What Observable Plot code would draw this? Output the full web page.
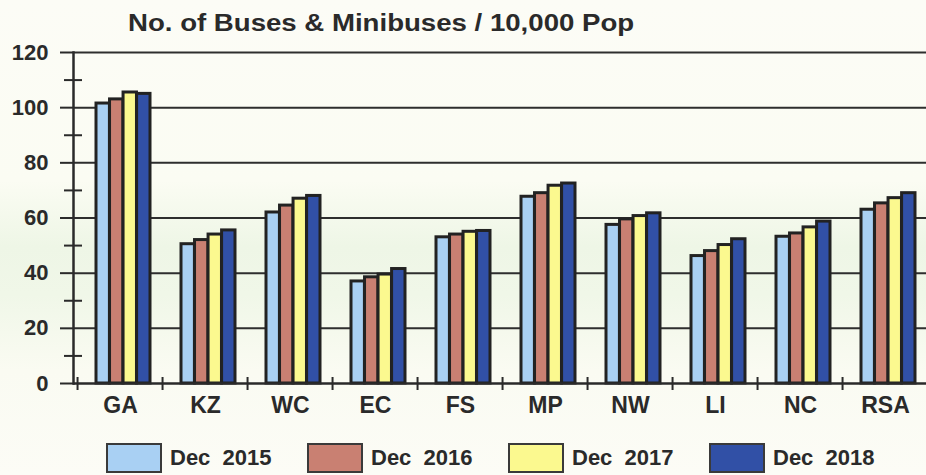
<!DOCTYPE html>
<html>
<head>
<meta charset="utf-8">
<script src="https://cdn.jsdelivr.net/npm/d3@7"></script>
<script src="https://cdn.jsdelivr.net/npm/@observablehq/plot@0.6"></script>
<style>
  html, body { margin: 0; padding: 0; }
  body {
    width: 926px; height: 475px; overflow: hidden; position: relative;
    font-family: "Liberation Sans", Arial, sans-serif; color: #2a2a2a;
    background: linear-gradient(to bottom, #fcfcf6 0%, #fbfcf3 38%, #eef6e6 52%, #f0f7e8 62%, #fafbf2 78%, #fcfcf6 100%);
  }
  #title {
    position: absolute; left: 128px; top: 12px; font-size: 23px; line-height: 23px;
    font-weight: bold; white-space: nowrap; transform: scaleX(1.2); transform-origin: left top;
  }
  #chart svg { display: block; background: transparent; }
  #legend {
    position: absolute; left: 0; top: 420px; height: 55px; width: 926px; box-sizing: border-box;
    padding-top: 23px; padding-left: 106px; display: flex; align-items: flex-start;
  }
  .item { display: flex; align-items: center; width: 201px; }
  .sw { width: 56px; height: 30px; box-sizing: border-box; border: 2px solid #3a3a3a; margin-right: 8px; }
  .lab { font-size: 22px; font-weight: bold; white-space: pre; color: #2a2a2a; }
</style>
</head>
<body>
<div id="title">No. of Buses &amp; Minibuses / 10,000 Pop</div>
<div id="chart"></div>
<div id="legend"></div>
<script>
// ---- data ----
const regions = ["GA", "KZ", "WC", "EC", "FS", "MP", "NW", "LI", "NC", "RSA"];
const seriesNames = ["Dec 2015", "Dec 2016", "Dec 2017", "Dec 2018"];
const seriesLabels = ["Dec  2015", "Dec  2016", "Dec  2017", "Dec  2018"];
const dec2015 = [101.5, 50.5, 62.0, 37.0, 53.0, 67.7, 57.5, 46.2, 53.2, 63.0];
const dec2016 = [103.0, 52.0, 64.5, 38.5, 54.0, 69.0, 59.5, 48.0, 54.4, 65.3];
const dec2017 = [105.5, 54.0, 67.0, 39.5, 55.0, 71.7, 60.7, 50.2, 56.6, 67.2];
const dec2018 = [105.0, 55.5, 68.0, 41.5, 55.3, 72.5, 61.7, 52.3, 58.7, 69.0];
const yTicks = [0, 20, 40, 60, 80, 100, 120];
const yMinorTicks = [10, 30, 50, 70, 90, 110];
const colors = ["#a9d0f3", "#c98072", "#fbf98f", "#3150a6"];

const seriesValues = [dec2015, dec2016, dec2017, dec2018];
const table = seriesNames.flatMap((s, i) => regions.map((r, j) => ({region: r, series: s, value: seriesValues[i][j]})));

// ---- layout ----
const W = 926, H = 420;
const mL = 73, mR = -6, mT = 52, mB = 37;
const padIn = 0.37, padOut = 0.185;
const step = (W - mL - mR) / (regions.length - padIn + 2 * padOut);
const bw = step * (1 - padIn);
const bwEach = bw / seriesNames.length;
const shift = 3;
const ink = "#2a2a2a";

const barMarks = seriesNames.map((s, i) => Plot.barY(table.filter(d => d.series === s), {
  x: "region", y: "value", fill: colors[i], stroke: "#222", strokeWidth: 3,
  insetLeft: shift + i * bwEach, insetRight: (seriesNames.length - 1 - i) * bwEach - shift
}));

const chart = Plot.plot({
  width: W, height: H,
  marginLeft: mL, marginRight: mR, marginTop: mT, marginBottom: mB,
  style: {background: "transparent", color: ink, fontFamily: "'Liberation Sans', Arial, sans-serif"},
  x: {domain: regions, paddingInner: padIn, paddingOuter: padOut, axis: null},
  y: {domain: [0, 120], axis: null},
  marks: [
    Plot.ruleY(yTicks.slice(1), {stroke: "#2e2e2e", strokeWidth: 2}),
    Plot.axisY({ticks: yTicks, tickSize: 13, tickPadding: 12, fontSize: 22, fontWeight: "bold", label: null, strokeWidth: 2, stroke: ink}),
    Plot.axisY({ticks: yMinorTicks, tickSize: 18, dx: 9, fill: "none", label: null, strokeWidth: 2, stroke: ink}),
    Plot.axisX(regions, {tickSize: 13, dy: -6, dx: -step / 2, fill: "none", label: null, strokeWidth: 2, stroke: ink}),
    Plot.axisX(regions, {tickSize: 0, tickPadding: 13, fontSize: 23, fontWeight: "bold", label: null}),
    ...barMarks,
    Plot.ruleY([0], {stroke: ink, strokeWidth: 2.5}),
    Plot.frame({anchor: "left", stroke: ink, strokeWidth: 2.5})
  ]
});
document.getElementById("chart").appendChild(chart);

// ---- legend ----
const legend = document.getElementById("legend");
seriesLabels.forEach((s, i) => {
  const item = document.createElement("div");
  item.className = "item";
  const sw = document.createElement("div");
  sw.className = "sw";
  sw.style.background = colors[i];
  const lab = document.createElement("span");
  lab.className = "lab";
  lab.textContent = s;
  item.appendChild(sw);
  item.appendChild(lab);
  legend.appendChild(item);
});
</script>
</body>
</html>
